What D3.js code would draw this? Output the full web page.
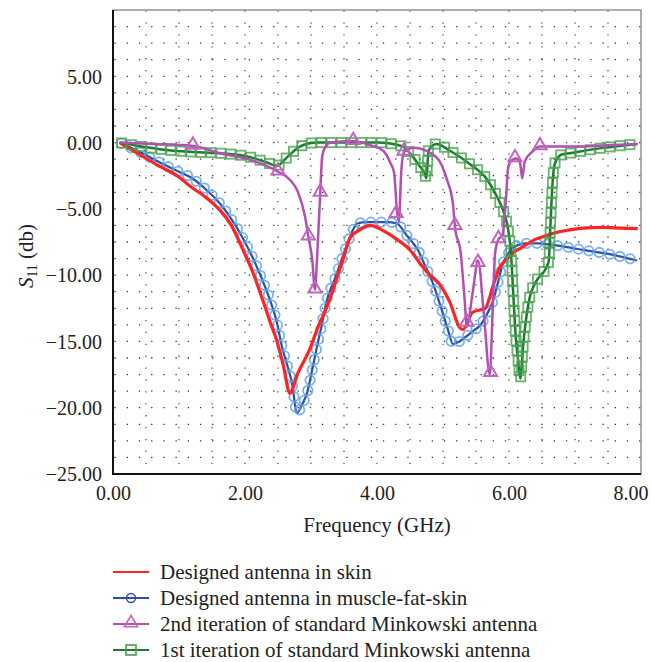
<!DOCTYPE html>
<html>
<head>
<meta charset="utf-8">
<script src="https://cdn.jsdelivr.net/npm/d3@7"></script>
<style>
  body { margin: 0; background: #fff; }
  svg { display: block; font-family: "Liberation Serif", "Times New Roman", "DejaVu Serif", serif; }
</style>
</head>
<body>
<svg width="651" height="662"></svg>
<script>
// frequency (GHz) / S11 (dB)
const skinF = [0.1, 0.4, 0.71, 1.0, 1.17, 1.4, 1.62, 1.8, 1.97, 2.12, 2.27, 2.4, 2.48, 2.58, 2.68, 2.8, 2.98, 3.1, 3.24, 3.36, 3.48, 3.59, 3.7, 3.8, 3.9, 4.0, 4.15, 4.3, 4.5, 4.65, 4.8, 4.95, 5.1, 5.26, 5.3, 5.45, 5.64, 5.7, 5.74, 5.8, 5.86, 5.95, 6.06, 6.2, 6.4, 6.52, 6.7, 6.9, 7.12, 7.4, 7.7, 7.95];
const skinS = [0, -0.9, -1.8, -2.6, -3.3, -4.1, -5.1, -6.3, -8.1, -9.8, -11.9, -13.8, -14.9, -16.8, -18.9, -17.4, -15.6, -14.0, -12.4, -10.7, -8.9, -7.2, -6.7, -6.4, -6.25, -6.4, -6.8, -7.3, -8.1, -9.1, -10.0, -10.7, -12.0, -14.0, -14.1, -12.8, -12.5, -11.8, -11.1, -10.2, -9.4, -8.9, -8.3, -7.9, -7.3, -7.1, -6.8, -6.6, -6.45, -6.4, -6.45, -6.5];

const mfsF = [0.1, 0.4, 0.71, 1.0, 1.17, 1.4, 1.62, 1.85, 2.08, 2.25, 2.38, 2.48, 2.56, 2.64, 2.71, 2.79, 2.86, 2.94, 3.02, 3.09, 3.17, 3.24, 3.36, 3.48, 3.6, 3.7, 3.85, 4.0, 4.15, 4.3, 4.45, 4.55, 4.62, 4.72, 4.83, 4.98, 5.08, 5.15, 5.25, 5.36, 5.46, 5.56, 5.66, 5.76, 5.83, 5.91, 5.97, 6.05, 6.15, 6.27, 6.45, 6.62, 6.9, 7.12, 7.5, 7.94];
const mfsS = [0, -0.7, -1.5, -2.2, -2.6, -3.5, -4.6, -6.2, -8.3, -10.2, -11.9, -13.5, -15.4, -16.8, -18.1, -20.4, -19.8, -18.9, -17.1, -15.4, -13.6, -11.9, -10.3, -8.6, -7.0, -6.1, -6.0, -6.0, -6.0, -6.1, -7.0, -7.6, -8.1, -9.2, -10.4, -12.6, -14.2, -15.2, -15.0, -14.6, -14.2, -13.8, -13.0, -11.9, -10.6, -9.1, -8.5, -8.0, -7.7, -7.6, -7.6, -7.7, -7.9, -8.1, -8.4, -8.9];

const mink2F = [0.1, 0.6, 1.21, 1.62, 2.08, 2.3, 2.5, 2.68, 2.8, 2.91, 2.96, 3.02, 3.06, 3.09, 3.14, 3.17, 3.22, 3.3, 3.64, 3.9, 4.09, 4.2, 4.26, 4.3, 4.33, 4.37, 4.41, 4.55, 4.9, 5.06, 5.15, 5.18, 5.27, 5.33, 5.36, 5.45, 5.53, 5.62, 5.71, 5.75, 5.79, 5.84, 5.9, 5.95, 5.99, 6.05, 6.12, 6.17, 6.2, 6.24, 6.35, 6.47, 6.9, 7.5, 7.95];
const mink2S = [0, -0.1, -0.25, -0.8, -1.3, -1.7, -2.2, -2.8, -3.7, -5.6, -7.1, -8.9, -11.1, -8.9, -3.8, -1.0, -0.3, 0, 0.1, -0.2, -0.6, -1.5, -2.3, -5.0, -6.0, -2.0, -0.7, -0.4, -1.1, -2.8, -4.6, -6.3, -8.4, -12.0, -13.9, -11.3, -8.9, -13.0, -17.5, -13.0, -8.3, -7.3, -7.0, -4.5, -1.8, -1.3, -1.2, -1.6, -2.7, -1.4, -0.7, -0.3, -0.3, -0.2, -0.1];
// triangle markers on the 2nd iteration curve
const mink2MarkF = [1.21, 2.5, 2.96, 3.06, 3.14, 3.64, 4.29, 4.41, 5.18, 5.36, 5.53, 5.72, 5.84, 6.09, 6.47];
const mink2MarkS = [-0.25, -2.2, -7.1, -11.1, -3.8, 0.1, -5.4, -0.7, -6.3, -13.6, -9.1, -17.4, -7.3, -1.2, -0.3];

const mink1F = [0.1, 0.71, 1.17, 1.62, 2.08, 2.33, 2.48, 2.64, 2.83, 3.09, 3.48, 4.0, 4.4, 4.5, 4.65, 4.72, 4.75, 4.78, 4.9, 5.1, 5.4, 5.67, 5.82, 5.91, 5.97, 6.0, 6.03, 6.06, 6.1, 6.14, 6.17, 6.22, 6.3, 6.42, 6.52, 6.6, 6.63, 6.66, 6.7, 6.8, 6.92, 7.42, 7.94];
const mink1S = [0, -0.5, -0.7, -0.8, -1.1, -1.5, -1.75, -1.1, -0.3, 0, 0, 0, -0.3, -0.8, -1.8, -2.3, -2.7, -0.6, -0.1, -0.6, -1.6, -2.8, -4.1, -5.1, -6.1, -7.0, -8.3, -11.0, -14.5, -16.5, -17.8, -15.0, -12.0, -10.4, -9.8, -9.0, -6.0, -3.0, -1.5, -0.9, -0.8, -0.4, -0.1];

const xTicks = [0, 2, 4, 6, 8];
const yTicks = [5, 0, -5, -10, -15, -20, -25];
const legendNames = [
  "Designed antenna in skin",
  "Designed antenna in muscle-fat-skin",
  "2nd iteration of standard Minkowski antenna",
  "1st iteration of standard Minkowski antenna"
];

const svg = d3.select("svg");
const plot = { left: 113, right: 641, top: 10, bottom: 474 };
const serif = "Liberation Serif, Times New Roman, serif";

const x = d3.scaleLinear().domain([0, 8]).range([plot.left, plot.right]);
const y = d3.scaleLinear().domain([-25, 10]).range([plot.bottom, plot.top]);

svg.append("rect").attr("width", 651).attr("height", 662).attr("fill", "#fff");

// dotted grid
const grid = svg.append("g");
grid.selectAll(".gv")
    .data(d3.range(0.5, 8, 0.5))
    .enter().append("line")
    .attr("x1", d => x(d)).attr("x2", d => x(d))
    .attr("y1", plot.top + 0.5).attr("y2", plot.bottom)
    .attr("stroke", "#555")
    .attr("stroke-width", 1.3)
    .attr("stroke-dasharray", "1.3 10.6");
grid.selectAll(".gh")
    .data(d3.range(-23.75, 10, 1.25))
    .enter().append("line")
    .attr("x1", plot.left + 1.5).attr("x2", plot.right)
    .attr("y1", d => y(d)).attr("y2", d => y(d))
    .attr("stroke", "#333")
    .attr("stroke-width", 1.3)
    .attr("stroke-dasharray", "1.3 10.9");

const line = d3.line()
    .x(d => x(d[0]))
    .y(d => y(d[1]))
    .curve(d3.curveMonotoneX);

const zip = (a, b) => a.map((v, i) => [v, b[i]]);

// marker positions spaced evenly along a drawn path
function pointsAlong(path, step) {
    const node = path.node();
    const len = node.getTotalLength();
    const pts = [];
    for (let s = 2; s <= len; s += step) pts.push(node.getPointAtLength(s));
    return pts;
}

const series = svg.append("g");

// muscle-fat-skin (blue, circles)
const bluePath = series.append("path")
    .datum(zip(mfsF, mfsS))
    .attr("d", line)
    .attr("fill", "none")
    .attr("stroke", "#2c4fa6")
    .attr("stroke-width", 2.2);
series.append("g").selectAll("circle")
    .data(pointsAlong(bluePath, 10.5))
    .enter().append("circle")
    .attr("cx", d => d.x).attr("cy", d => d.y)
    .attr("r", 4.7)
    .attr("fill", "none")
    .attr("stroke", "#5a9ee0")
    .attr("stroke-opacity", 0.8)
    .attr("stroke-width", 1.8);

// skin (red)
series.append("path")
    .datum(zip(skinF, skinS))
    .attr("d", line)
    .attr("fill", "none")
    .attr("stroke", "#ff2323")
    .attr("stroke-width", 3.2);

// 1st iteration (green, squares)
const greenPath = series.append("path")
    .datum(zip(mink1F, mink1S))
    .attr("d", line)
    .attr("fill", "none")
    .attr("stroke", "#1d7a33")
    .attr("stroke-width", 2.5);
series.append("g").selectAll("rect")
    .data(pointsAlong(greenPath, 10))
    .enter().append("rect")
    .attr("x", d => d.x - 4.6).attr("y", d => d.y - 4.6)
    .attr("width", 9.2).attr("height", 9.2)
    .attr("fill", "none")
    .attr("stroke", "#45a04a")
    .attr("stroke-opacity", 0.8)
    .attr("stroke-width", 1.8);

// 2nd iteration (purple, triangles)
series.append("path")
    .datum(zip(mink2F, mink2S))
    .attr("d", line)
    .attr("fill", "none")
    .attr("stroke", "#b24fb0")
    .attr("stroke-width", 2.5);
const tri = d3.symbol().type(d3.symbolTriangle).size(75);
series.append("g").selectAll("path")
    .data(zip(mink2MarkF, mink2MarkS))
    .enter().append("path")
    .attr("d", tri)
    .attr("transform", d => `translate(${x(d[0])},${y(d[1]) - 1})`)
    .attr("fill", "none")
    .attr("stroke", "#c265c0")
    .attr("stroke-width", 2);

// frame
svg.append("rect")
    .attr("x", plot.left).attr("y", plot.top)
    .attr("width", plot.right - plot.left).attr("height", plot.bottom - plot.top)
    .attr("fill", "none").attr("stroke", "#777").attr("stroke-width", 1.2);
svg.append("path")
    .attr("d", `M${plot.left},${plot.top}V${plot.bottom}H${plot.right}`)
    .attr("fill", "none").attr("stroke", "#111").attr("stroke-width", 2);

// axes
const fmt = d3.format(".2f");
const xAxis = svg.append("g")
    .attr("transform", `translate(0,${plot.bottom + 4})`)
    .call(d3.axisBottom(x).tickValues(xTicks).tickFormat(fmt).tickSize(0));
const yAxis = svg.append("g")
    .attr("transform", `translate(${plot.left - 11},0)`)
    .call(d3.axisLeft(y).tickValues(yTicks).tickFormat(fmt).tickSize(0));
[xAxis, yAxis].forEach(a => {
    a.attr("font-family", serif);
    a.select(".domain").remove();
    a.selectAll("text")
        .attr("font-size", 20)
        .attr("fill", "#222");
});
xAxis.selectAll("text").attr("dy", "0.95em");
// last label kept inside the picture
xAxis.selectAll(".tick text").filter(d => d === 8)
    .attr("text-anchor", "end").attr("x", 7);
yAxis.selectAll("text").attr("dy", "0.34em").attr("x", 0);

svg.append("text")
    .attr("x", (plot.left + plot.right) / 2)
    .attr("y", 532)
    .attr("text-anchor", "middle")
    .attr("font-size", 21)
    .attr("fill", "#222")
    .text("Frequency (GHz)");

const yTitle = svg.append("text")
    .attr("transform", "translate(33,256) rotate(-90)")
    .attr("text-anchor", "middle")
    .attr("font-size", 21)
    .attr("fill", "#222");
yTitle.append("tspan").attr("font-style", "italic").text("S");
yTitle.append("tspan").attr("font-size", 14).attr("dy", 4).text("11");
yTitle.append("tspan").attr("dy", -4).text(" (db)");

// legend
const legend = svg.append("g");
const rowY = [572, 598, 624, 650];
const rowStyle = [
    { color: "#ff2323", marker: null },
    { color: "#2c4fa6", marker: "circle" },
    { color: "#b24fb0", marker: "triangle", mcolor: "#c265c0" },
    { color: "#1d7a33", marker: "square", mcolor: "#45a04a" }
];
legendNames.forEach((name, i) => {
    const g = legend.append("g").attr("transform", `translate(0,${rowY[i]})`);
    const st = rowStyle[i];
    g.append("line")
        .attr("x1", 113).attr("x2", 149)
        .attr("stroke", st.color)
        .attr("stroke-width", 2);
    if (st.marker === "circle") {
        g.append("circle").attr("cx", 131).attr("r", 4.5)
            .attr("fill", "none").attr("stroke", st.color).attr("stroke-width", 1.4);
    } else if (st.marker === "triangle") {
        g.append("path").attr("d", tri).attr("transform", "translate(131,-1)")
            .attr("fill", "none").attr("stroke", st.mcolor).attr("stroke-width", 1.6);
    } else if (st.marker === "square") {
        g.append("rect").attr("x", 126).attr("y", -5).attr("width", 10).attr("height", 10)
            .attr("fill", "none").attr("stroke", st.mcolor).attr("stroke-width", 1.6);
    }
    g.append("text")
        .attr("x", 160)
        .attr("dy", "0.32em")
        .attr("font-size", 21)
        .attr("fill", "#222")
        .text(name);
});
</script>
</body>
</html>
